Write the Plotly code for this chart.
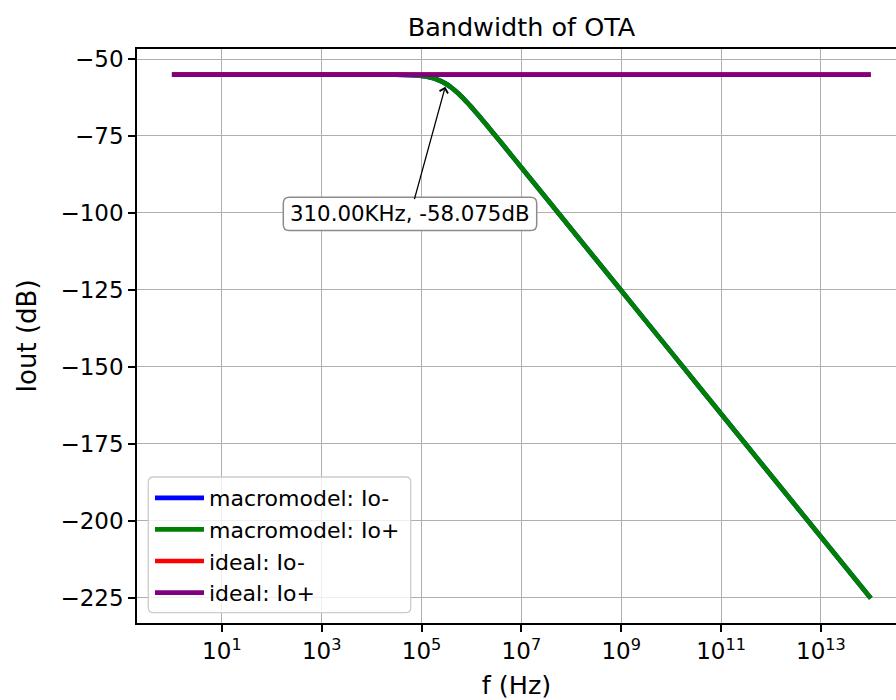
import math
import plotly.graph_objects as go

# ---------------- data ----------------
freq_hz = [1, 10, 1e2, 1e3, 1e4, 3e4, 1e5, 1.5e5, 2e5, 3.1e5, 4e5, 5e5, 6e5, 7e5, 8.5e5,
           1e6, 1.4e6, 2e6, 3e6, 5e6, 1e7, 1e8, 1e9, 1e10, 1e11, 1e12, 1e13, 1e14]
macro_io_minus_db = [-55.08, -55.08, -55.08, -55.08, -55.08, -55.12, -55.51, -55.99, -56.59,
                     -58.08, -59.34, -60.65, -61.84, -62.93, -64.38, -65.65, -68.38,
                     -71.38, -74.84, -79.25, -85.26, -105.25, -125.25, -145.25,
                     -165.25, -185.25, -205.25, -225.25]
macro_io_plus_db = [-55.08, -55.08, -55.08, -55.08, -55.08, -55.12, -55.51, -55.99, -56.59,
                    -58.08, -59.34, -60.65, -61.84, -62.93, -64.38, -65.65, -68.38,
                    -71.38, -74.84, -79.25, -85.26, -105.25, -125.25, -145.25,
                    -165.25, -185.25, -205.25, -225.25]
ideal_io_minus_db = [-55.08] * len(freq_hz)
ideal_io_plus_db = [-55.08] * len(freq_hz)

series_names = ["macromodel: Io-", "macromodel: Io+", "ideal: Io-", "ideal: Io+"]
series_values = [macro_io_minus_db, macro_io_plus_db, ideal_io_minus_db, ideal_io_plus_db]
series_colors = ["#0000ff", "#008000", "#ff0000", "#800080"]

x_tick_vals = [1e1, 1e3, 1e5, 1e7, 1e9, 1e11, 1e13]
x_tick_text = ["10<sup>1</sup>", "10<sup>3</sup>", "10<sup>5</sup>", "10<sup>7</sup>",
               "10<sup>9</sup>", "10<sup>11</sup>", "10<sup>13</sup>"]
y_tick_vals = [-50, -75, -100, -125, -150, -175, -200, -225]
y_tick_text = ["\u221250", "\u221275", "\u2212100", "\u2212125", "\u2212150",
               "\u2212175", "\u2212200", "\u2212225"]

marker_freq = 3.1e5
marker_db = -58.075
marker_label = "310.00KHz, -58.075dB"

# ---------------- geometry ----------------
W, H = 896, 700
ML, MR, MT, MB = 137, 0, 49, 77
PW, PH = W - ML - MR, H - MT - MB
FONT = "DejaVu Sans"


def px(xp):
    return (xp - ML) / PW


def py(yp):
    return 1 - (yp - MT) / PH


def round_rect(x0, y0, x1, y1, r):
    # pixel coords -> paper path with rounded corners
    rx, ry = r / PW, r / PH
    X0, X1 = px(x0), px(x1)
    Y0, Y1 = py(y0), py(y1)  # Y0 top, Y1 bottom
    return (f"M{X0 + rx},{Y0} L{X1 - rx},{Y0} Q{X1},{Y0} {X1},{Y0 - ry} "
            f"L{X1},{Y1 + ry} Q{X1},{Y1} {X1 - rx},{Y1} L{X0 + rx},{Y1} "
            f"Q{X0},{Y1} {X0},{Y1 + ry} L{X0},{Y0 - ry} Q{X0},{Y0} {X0 + rx},{Y0} Z")


fig = go.Figure()
for i, (name, vals, col) in enumerate(zip(series_names, series_values, series_colors)):
    fig.add_trace(go.Scatter(x=freq_hz, y=vals, mode="lines", name=name,
                             line=dict(color=col, width=4.7, shape="spline", smoothing=0.5),
                             legendgroup=f"g{i}"))

fig.update_layout(
    width=W, height=H,
    margin=dict(l=ML, r=MR, t=MT, b=MB),
    paper_bgcolor="white", plot_bgcolor="white",
    font=dict(family=FONT, color="black"),
    title=dict(text="Bandwidth of OTA", font=dict(size=25.5, family=FONT),
               x=521.5 / W, xref="container", xanchor="center",
               y=1 - 27 / H, yref="container", yanchor="middle"),
    showlegend=True,
    legend=dict(x=px(150), y=py(477), xanchor="left", yanchor="top",
                bgcolor="rgba(0,0,0,0)", borderwidth=0,
                font=dict(size=22, family=FONT), itemwidth=49,
                tracegroupgap=3, traceorder="normal"),
)

fig.update_xaxes(type="log", range=[-0.7, 14.505],
                 tickvals=x_tick_vals, ticktext=x_tick_text,
                 tickfont=dict(size=23, family=FONT),
                 ticks="outside", ticklen=7, tickwidth=1.5, tickcolor="black",
                 showline=True, linecolor="black", linewidth=1.5, mirror=True,
                 showgrid=True, gridcolor="#b0b0b0", gridwidth=1.3,
                 zeroline=False,
                 title=dict(text="f (Hz)", font=dict(size=25.5, family=FONT), standoff=17))
fig.update_yaxes(range=[-233.26, -46.75],
                 tickvals=y_tick_vals, ticktext=y_tick_text,
                 tickfont=dict(size=23, family=FONT),
                 ticks="outside", ticklen=7, tickwidth=1.5, tickcolor="black",
                 showline=True, linecolor="black", linewidth=1.5, mirror=False,
                 showgrid=True, gridcolor="#b0b0b0", gridwidth=1.3,
                 zeroline=False,
                 title=dict(text="Iout (dB)", font=dict(size=26, family=FONT), standoff=16))

# legend frame (rounded) and annotation box (rounded)
fig.add_shape(type="path", xref="paper", yref="paper",
              path=round_rect(148.3, 477, 410.7, 612.7, 5),
              fillcolor="rgba(255,255,255,0.8)", line=dict(color="#cccccc", width=1.3),
              layer="above")
fig.add_shape(type="path", xref="paper", yref="paper",
              path=round_rect(283.3, 197.3, 536.7, 230.5, 6),
              fillcolor="white", line=dict(color="#8c8c8c", width=1.5),
              layer="above")

fig.add_annotation(x=math.log10(marker_freq), y=marker_db, xref="x", yref="y",
                   text=marker_label, font=dict(size=21.3, family=FONT, color="black"),
                   showarrow=True, arrowhead=4, arrowsize=1.3, arrowwidth=1.3,
                   arrowcolor="black", standoff=3,
                   ax=410 - 445.6, ay=213.9 - 84.1, axref="pixel", ayref="pixel",
                   bgcolor="rgba(0,0,0,0)", borderpad=2, borderwidth=0)

fig.write_html("out.html")
